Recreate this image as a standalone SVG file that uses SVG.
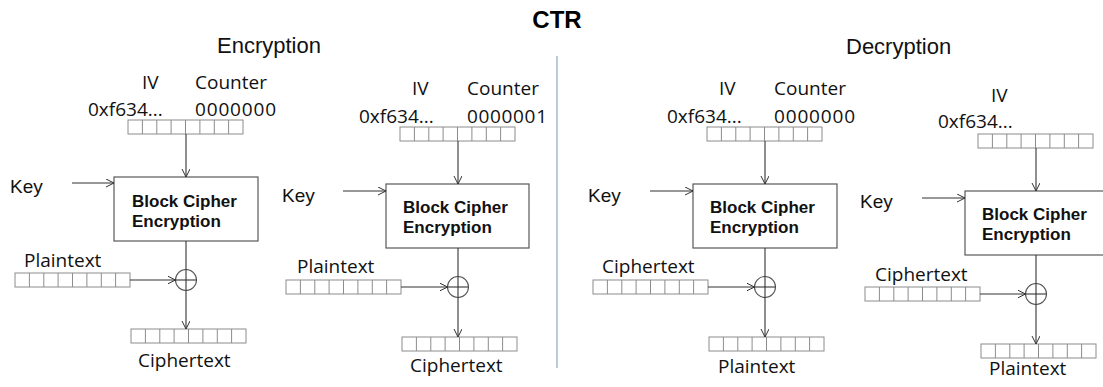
<svg xmlns="http://www.w3.org/2000/svg" xmlns:xlink="http://www.w3.org/1999/xlink" width="1103" height="387" viewBox="0 0 1103 387">
  <style>
    .title { font-family: "Liberation Sans", Arial, sans-serif; font-weight: bold; font-size: 24px; fill: #000; }
    .head { font-family: "Liberation Sans", Arial, sans-serif; font-size: 22px; fill: #111; }
    .lbl { font-family: "Open Sans", "Liberation Sans", sans-serif; font-size: 19px; fill: #111; }
    .key { font-family: "Liberation Sans", Arial, sans-serif; font-size: 19px; fill: #111; }
    .bc { font-family: "Liberation Sans", Arial, sans-serif; font-weight: bold; font-size: 17px; fill: #111; }
    .box { fill: #fff; stroke: #595959; stroke-width: 1.2; }
    .cell { fill: #fff; stroke: #8c8c8c; stroke-width: 1; }
    .wire { fill: none; stroke: #333; stroke-width: 1.1; }
    .xor { fill: #fff; stroke: #555; stroke-width: 1.1; }
  </style>
  <defs>
    <marker id="arrow" markerUnits="userSpaceOnUse" markerWidth="10" markerHeight="10" refX="8" refY="4" orient="auto">
      <path d="M0,0 L8,4 L0,8" fill="none" stroke="#333" stroke-width="1"/>
    </marker>
    <!-- 8-cell data register -->
    <g id="reg">
      <rect class="cell" x="0" y="0" width="115" height="14"/>
      <path class="cell" d="M14.4,0V14M28.8,0V14M43.1,0V14M57.5,0V14M71.9,0V14M86.3,0V14M100.6,0V14"/>
    </g>
  </defs>

  <text class="title" x="557" y="28" text-anchor="middle">CTR</text>
  <text class="head" x="217" y="53">Encryption</text>
  <text class="head" x="846" y="54">Decryption</text>
  <line x1="557" y1="56" x2="557" y2="368" stroke="#8fa9c9" stroke-width="1.2"/>

  <!-- Encryption, counter 0 -->
  <g id="enc0">
    <text class="lbl" x="142" y="89">IV</text>
    <text class="lbl" x="195" y="89">Counter</text>
    <text class="lbl" x="88" y="116">0xf634...</text>
    <text class="lbl" x="195" y="116" textLength="81">0000000</text>
    <use xlink:href="#reg" x="128" y="120"/>
    <text class="key" x="10" y="193">Key</text>
    <rect class="box" x="114" y="177" width="144" height="64"/>
    <text class="bc" x="132" y="207">Block Cipher</text>
    <text class="bc" x="132" y="227">Encryption</text>
    <text class="lbl" x="24" y="267">Plaintext</text>
    <use xlink:href="#reg" x="15" y="273"/>
    <circle class="xor" cx="186" cy="280" r="10.5"/>
    <use xlink:href="#reg" x="131" y="329"/>
    <text class="lbl" x="138" y="367">Ciphertext</text>
  </g>

  <!-- Encryption, counter 1 -->
  <g id="enc1">
    <text class="lbl" x="412" y="95">IV</text>
    <text class="lbl" x="467" y="95">Counter</text>
    <text class="lbl" x="359" y="123">0xf634...</text>
    <text class="lbl" x="467" y="123" textLength="80">0000001</text>
    <use xlink:href="#reg" x="400" y="127"/>
    <text class="key" x="282" y="202">Key</text>
    <rect class="box" x="386" y="184" width="143" height="64"/>
    <text class="bc" x="403" y="213">Block Cipher</text>
    <text class="bc" x="403" y="233">Encryption</text>
    <text class="lbl" x="297" y="273">Plaintext</text>
    <use xlink:href="#reg" x="286" y="280"/>
    <circle class="xor" cx="458" cy="287" r="10.5"/>
    <use xlink:href="#reg" x="402" y="337"/>
    <text class="lbl" x="410" y="372">Ciphertext</text>
  </g>

  <!-- Decryption, counter 0 -->
  <g id="dec0">
    <text class="lbl" x="719" y="95">IV</text>
    <text class="lbl" x="774" y="95">Counter</text>
    <text class="lbl" x="667" y="123">0xf634...</text>
    <text class="lbl" x="774" y="123" textLength="81">0000000</text>
    <use xlink:href="#reg" x="707" y="127"/>
    <text class="key" x="588" y="202">Key</text>
    <rect class="box" x="693" y="184" width="144" height="64"/>
    <text class="bc" x="710" y="213">Block Cipher</text>
    <text class="bc" x="710" y="233">Encryption</text>
    <text class="lbl" x="602" y="273">Ciphertext</text>
    <use xlink:href="#reg" x="593" y="280"/>
    <circle class="xor" cx="765" cy="287" r="10.5"/>
    <use xlink:href="#reg" x="709" y="337"/>
    <text class="lbl" x="718" y="373">Plaintext</text>
  </g>

  <!-- Decryption, next block -->
  <g id="dec1">
    <text class="lbl" x="991" y="102">IV</text>
    <text class="lbl" x="938" y="128">0xf634...</text>
    <use xlink:href="#reg" x="978" y="134"/>
    <text class="key" x="860" y="208">Key</text>
    <rect class="box" x="965" y="191" width="144" height="64"/>
    <text class="bc" x="982" y="220">Block Cipher</text>
    <text class="bc" x="982" y="240">Encryption</text>
    <text class="lbl" x="875" y="281">Ciphertext</text>
    <use xlink:href="#reg" x="865" y="287"/>
    <circle class="xor" cx="1036" cy="294" r="10.5"/>
    <use xlink:href="#reg" x="981" y="344"/>
    <text class="lbl" x="989" y="375">Plaintext</text>
  </g>

  <g id="connectors">
    <!-- panel 1 -->
    <line class="wire" x1="186" y1="134" x2="186" y2="177" marker-end="url(#arrow)"/>
    <line class="wire" x1="72" y1="183" x2="114" y2="183" marker-end="url(#arrow)"/>
    <line class="wire" x1="186" y1="241" x2="186" y2="329" marker-end="url(#arrow)"/>
    <line class="wire" x1="130" y1="280" x2="175.5" y2="280" marker-end="url(#arrow)"/>
    <line class="wire" x1="175.5" y1="280" x2="196.5" y2="280"/>
    <!-- panel 2 -->
    <line class="wire" x1="458" y1="141" x2="458" y2="184" marker-end="url(#arrow)"/>
    <line class="wire" x1="343" y1="191" x2="386" y2="191" marker-end="url(#arrow)"/>
    <line class="wire" x1="458" y1="248" x2="458" y2="337" marker-end="url(#arrow)"/>
    <line class="wire" x1="401" y1="287" x2="447.5" y2="287" marker-end="url(#arrow)"/>
    <line class="wire" x1="447.5" y1="287" x2="468.5" y2="287"/>
    <!-- panel 3 -->
    <line class="wire" x1="765" y1="141" x2="765" y2="184" marker-end="url(#arrow)"/>
    <line class="wire" x1="650" y1="191" x2="693" y2="191" marker-end="url(#arrow)"/>
    <line class="wire" x1="765" y1="248" x2="765" y2="337" marker-end="url(#arrow)"/>
    <line class="wire" x1="708" y1="287" x2="754.5" y2="287" marker-end="url(#arrow)"/>
    <line class="wire" x1="754.5" y1="287" x2="775.5" y2="287"/>
    <!-- panel 4 -->
    <line class="wire" x1="1036" y1="148" x2="1036" y2="191" marker-end="url(#arrow)"/>
    <line class="wire" x1="922" y1="198" x2="965" y2="198" marker-end="url(#arrow)"/>
    <line class="wire" x1="1036" y1="255" x2="1036" y2="344" marker-end="url(#arrow)"/>
    <line class="wire" x1="980" y1="294" x2="1025.5" y2="294" marker-end="url(#arrow)"/>
    <line class="wire" x1="1025.5" y1="294" x2="1046.5" y2="294"/>
  </g>
</svg>
